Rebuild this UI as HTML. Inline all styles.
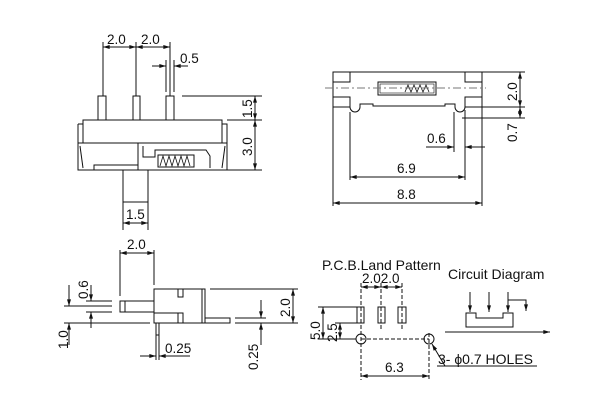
<!DOCTYPE html>
<html><head><meta charset="utf-8"><style>
html,body{margin:0;padding:0;background:#fff;}
svg{display:block;}
text{font-family:"Liberation Sans",Arial,sans-serif;font-size:13.5px;fill:#111;}
</style></head><body>
<svg width="600" height="400" viewBox="0 0 600 400" xmlns="http://www.w3.org/2000/svg">
<defs>
<marker id="a" viewBox="0 0 10 6" refX="10" refY="3" markerWidth="7" markerHeight="4" orient="auto-start-reverse"><path d="M0,0 L10,3 L0,6 z" fill="#111"/></marker>
</defs>
<g stroke="#111" stroke-width="1" fill="none">
<rect x="98" y="96" width="8" height="24"/>
<rect x="133" y="96" width="7" height="24"/>
<rect x="166" y="96" width="8" height="24"/>
<rect x="83" y="120" width="139" height="23"/>
<path d="M78,124 L78,170 L227,170 L227,124 L222,124"/>
<path d="M83,124 L78,124"/>
<line x1="78" y1="143" x2="227" y2="143"/>
<path d="M80,146 L83,168"/>
<path d="M225,146 L222,168"/>
<line x1="138" y1="143" x2="138" y2="170"/>
<path d="M143,146 L143,157 L155,157 L155,150 L206,150 L210,156 L210,168"/>
<path d="M94,170 L94,165 L138,165"/>
<rect x="158" y="155" width="36" height="12" fill="#fff"/>
<path d="M160,166 l3,-10 l3,10 l3,-10 l3,10 l3,-10 l3,10 l3,-10 l3,10 l3,-10 l3,10" stroke-width="0.8"/>
<rect x="123" y="170" width="25" height="32"/>
<line x1="103" y1="42" x2="103" y2="96"/>
<line x1="136" y1="42" x2="136" y2="96"/>
<line x1="170" y1="42" x2="170" y2="96"/>
<line x1="103" y1="47" x2="136" y2="47" marker-start="url(#a)" marker-end="url(#a)"/>
<line x1="136" y1="47" x2="170" y2="47" marker-start="url(#a)" marker-end="url(#a)"/>
<line x1="166" y1="60" x2="166" y2="92"/>
<line x1="174" y1="60" x2="174" y2="92"/>
<line x1="152" y1="66" x2="166" y2="66" marker-end="url(#a)"/>
<line x1="188" y1="66" x2="174" y2="66" marker-end="url(#a)"/>
<line x1="182" y1="96" x2="262" y2="96"/>
<line x1="227" y1="120" x2="262" y2="120"/>
<line x1="227" y1="170" x2="262" y2="170"/>
<line x1="255" y1="96" x2="255" y2="120" marker-start="url(#a)" marker-end="url(#a)"/>
<line x1="255" y1="120" x2="255" y2="170" marker-start="url(#a)" marker-end="url(#a)"/>
<line x1="123" y1="202" x2="123" y2="230"/>
<line x1="148" y1="202" x2="148" y2="230"/>
<line x1="123" y1="223" x2="148" y2="223" marker-start="url(#a)" marker-end="url(#a)"/>

<path d="M333,72 L482,72 L482,107 L465,107"/>
<path d="M333,72 L333,107 L350,107"/>
<rect x="333" y="72" width="17" height="10"/>
<rect x="465" y="72" width="17" height="10"/>
<rect x="333" y="97" width="17" height="10"/>
<rect x="465" y="97" width="17" height="10"/>
<path d="M350,107 A5,5 0 0 0 360,107 L360,104 L373,104 L373,106 L445,106 L445,104 L455,104 L455,107 A5,5 0 0 0 465,107"/>
<rect x="378" y="82" width="58" height="13"/>
<rect x="380" y="84" width="54" height="9" stroke-width="0.6"/>
<path d="M405,92 l3,-7 l3,7 l3,-7 l3,7 l3,-7 l3,7 l3,-7 l3,7" stroke-width="0.8"/>
<line x1="325" y1="88" x2="486" y2="88" stroke="#777" stroke-dasharray="8,3,2,3"/>
<line x1="482" y1="72" x2="525" y2="72"/>
<line x1="482" y1="107" x2="525" y2="107"/>
<line x1="462" y1="118" x2="525" y2="118"/>
<line x1="520" y1="72" x2="520" y2="107" marker-start="url(#a)" marker-end="url(#a)"/>
<line x1="520" y1="107" x2="520" y2="118" marker-start="url(#a)" marker-end="url(#a)"/>
<line x1="454" y1="112" x2="454" y2="152"/>
<line x1="465" y1="110" x2="465" y2="180"/>
<line x1="426" y1="147" x2="454" y2="147" marker-end="url(#a)"/>
<line x1="485" y1="147" x2="465" y2="147" marker-end="url(#a)"/>
<line x1="350" y1="112" x2="350" y2="180"/>
<line x1="350" y1="177" x2="465" y2="177" marker-start="url(#a)" marker-end="url(#a)"/>
<line x1="333" y1="107" x2="333" y2="206"/>
<line x1="482" y1="107" x2="482" y2="206"/>
<line x1="333" y1="203" x2="482" y2="203" marker-start="url(#a)" marker-end="url(#a)"/>

<rect x="154" y="289" width="48" height="34"/>
<rect x="202" y="289" width="3" height="34"/>
<rect x="178" y="289" width="5" height="8"/>
<rect x="178" y="313" width="5" height="10"/>
<line x1="154" y1="313" x2="178" y2="313"/>
<rect x="120" y="301" width="5" height="11"/>
<line x1="125" y1="301" x2="154" y2="301"/>
<line x1="125" y1="312" x2="154" y2="312"/>
<rect x="156" y="323" width="3" height="12"/>
<rect x="205" y="318" width="25" height="5"/>
<line x1="120" y1="250" x2="120" y2="296"/>
<line x1="154" y1="250" x2="154" y2="285"/>
<line x1="120" y1="253" x2="154" y2="253" marker-start="url(#a)" marker-end="url(#a)"/>
<line x1="210" y1="289" x2="298" y2="289"/>
<line x1="235" y1="323" x2="298" y2="323"/>
<line x1="293" y1="289" x2="293" y2="323" marker-start="url(#a)" marker-end="url(#a)"/>
<line x1="235" y1="318" x2="266" y2="318"/>
<line x1="261" y1="300" x2="261" y2="318" marker-end="url(#a)"/>
<line x1="261" y1="345" x2="261" y2="323" marker-end="url(#a)"/>
<line x1="86" y1="301" x2="112" y2="301"/>
<line x1="86" y1="312" x2="112" y2="312"/>
<line x1="64" y1="306" x2="112" y2="306"/>
<line x1="64" y1="323" x2="150" y2="323"/>
<line x1="91" y1="285" x2="91" y2="301" marker-end="url(#a)"/>
<line x1="91" y1="328" x2="91" y2="312" marker-end="url(#a)"/>
<line x1="69" y1="285" x2="69" y2="306" marker-end="url(#a)"/>
<line x1="69" y1="345" x2="69" y2="323" marker-end="url(#a)"/>
<line x1="156" y1="335" x2="156" y2="360"/>
<line x1="159" y1="335" x2="159" y2="360"/>
<line x1="140" y1="356" x2="156" y2="356" marker-end="url(#a)"/>
<line x1="190" y1="356" x2="159" y2="356" marker-end="url(#a)"/>

<rect x="357" y="307" width="7" height="16"/>
<rect x="378" y="307" width="7" height="16"/>
<rect x="398" y="307" width="8" height="16"/>
<g stroke-dasharray="4,2">
<line x1="361" y1="283" x2="361" y2="380"/>
<line x1="381" y1="283" x2="381" y2="330"/>
<line x1="402" y1="283" x2="402" y2="330"/>
<line x1="429" y1="333" x2="429" y2="380"/>
<line x1="361" y1="339" x2="429" y2="339"/>
</g>
<circle cx="361" cy="339" r="5"/>
<circle cx="429" cy="339" r="5"/>
<line x1="361" y1="287" x2="381" y2="287" marker-start="url(#a)" marker-end="url(#a)"/>
<line x1="381" y1="287" x2="402" y2="287" marker-start="url(#a)" marker-end="url(#a)"/>
<line x1="318" y1="307" x2="357" y2="307"/>
<line x1="335" y1="323" x2="357" y2="323"/>
<line x1="318" y1="339" x2="356" y2="339"/>
<line x1="323" y1="307" x2="323" y2="339" marker-start="url(#a)" marker-end="url(#a)"/>
<line x1="340" y1="323" x2="340" y2="339" marker-start="url(#a)" marker-end="url(#a)"/>
<line x1="361" y1="376" x2="429" y2="376" marker-start="url(#a)" marker-end="url(#a)"/>
<line x1="445" y1="366" x2="432" y2="344" marker-end="url(#a)"/>
<line x1="437" y1="366" x2="537" y2="366"/>

<path d="M466,313 L466,327 L513,327 L513,313 L503,313 L503,318 L476,318 L476,313 Z"/>
<line x1="470" y1="292" x2="470" y2="312" marker-end="url(#a)"/>
<line x1="489" y1="292" x2="489" y2="312" marker-end="url(#a)"/>
<line x1="508" y1="292" x2="508" y2="312" marker-end="url(#a)"/>
<path d="M508,300 L526,300 L526,311" marker-end="url(#a)"/>
<line x1="445" y1="332" x2="550" y2="332" marker-end="url(#a)"/>
</g>

<text x="107" y="44">2.0</text>
<text x="141" y="44">2.0</text>
<text x="180" y="63">0.5</text>
<text transform="translate(252,118) rotate(-90)">1.5</text>
<text transform="translate(252,156) rotate(-90)">3.0</text>
<text x="126" y="219">1.5</text>
<text x="397" y="173">6.9</text>
<text x="397" y="199">8.8</text>
<text x="427" y="143">0.6</text>
<text transform="translate(517,101) rotate(-90)">2.0</text>
<text transform="translate(517,142) rotate(-90)">0.7</text>
<text x="127" y="249">2.0</text>
<text transform="translate(88,299) rotate(-90)">0.6</text>
<text transform="translate(68,349) rotate(-90)">1.0</text>
<text x="165" y="353">0.25</text>
<text transform="translate(258,370) rotate(-90)">0.25</text>
<text transform="translate(290,317) rotate(-90)">2.0</text>
<text x="322" y="270" style="font-size:14px">P.C.B.Land Pattern</text>
<text x="448" y="279" style="font-size:14px">Circuit Diagram</text>
<text x="362" y="283">2.02.0</text>
<text transform="translate(320,340) rotate(-90)">5.0</text>
<text transform="translate(337,342) rotate(-90)">2.5</text>
<text x="385" y="372">6.3</text>
<text x="438" y="364" style="font-size:14px">3- ϕ0.7 HOLES</text>
</svg>
</body></html>
